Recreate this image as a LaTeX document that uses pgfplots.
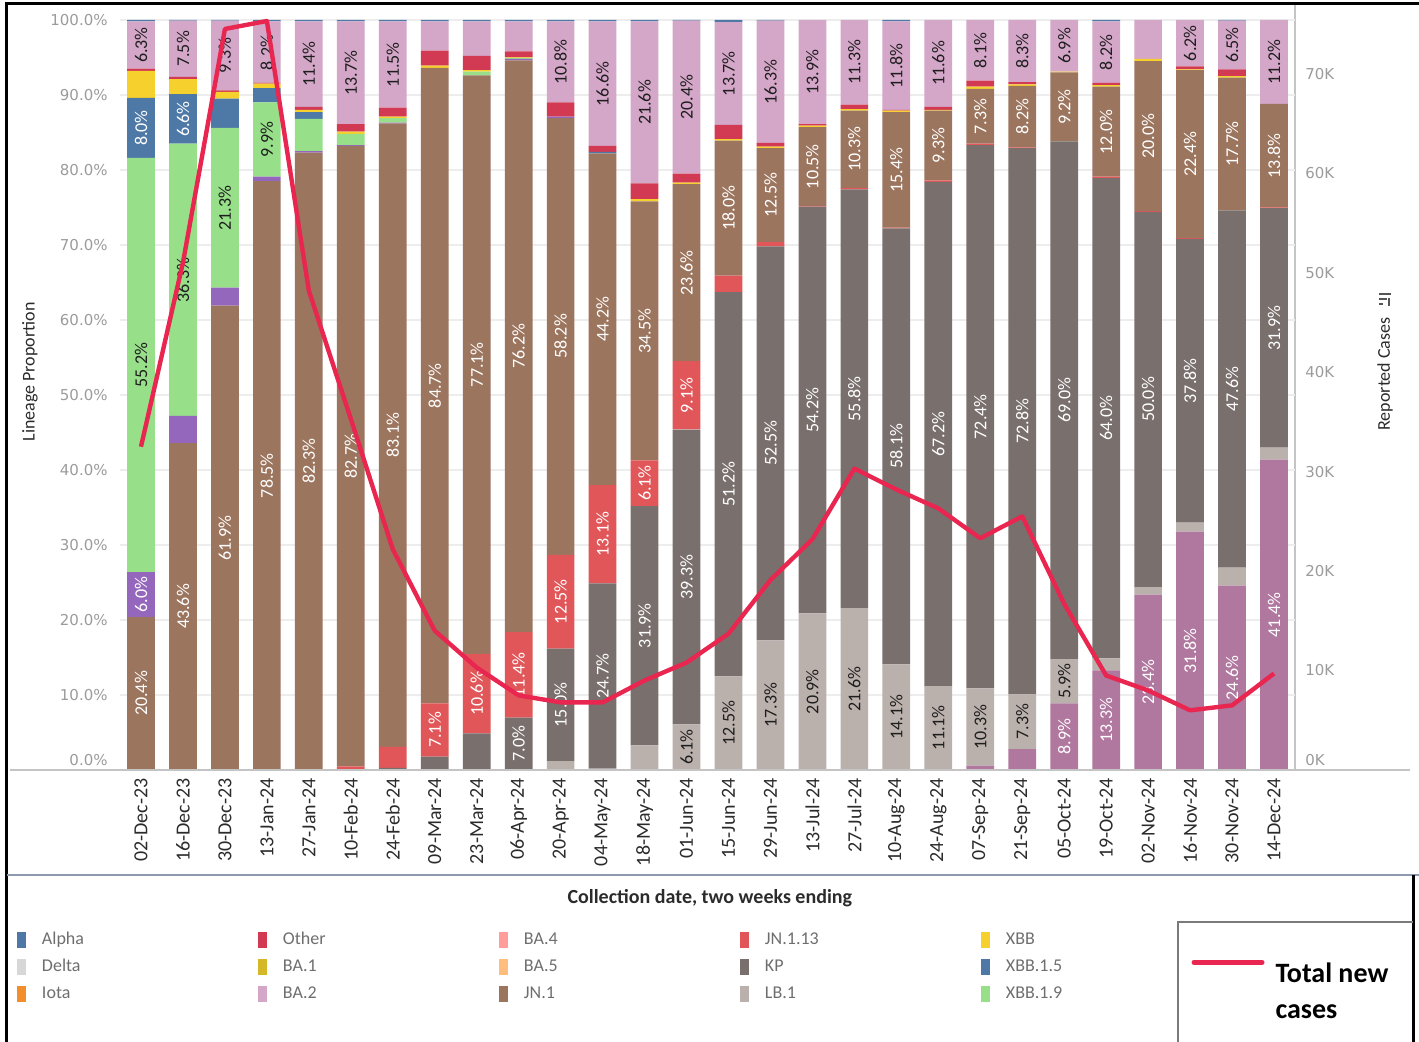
\documentclass[border=0pt]{standalone}
\usepackage{pgfplots}
\pgfplotsset{compat=1.18}
\usepackage{pgfplotstable}
\usepackage{fontspec}
\setmainfont{Carlito}
\newfontfamily\dejavu{DejaVu Sans}

\definecolor{cXEC}{HTML}{B0779F}
\definecolor{cLB}{HTML}{BAB0AC}
\definecolor{cKP}{HTML}{79706E}
\definecolor{cJNa}{HTML}{E15759}
\definecolor{cJN}{HTML}{9C755F}
\definecolor{cPU}{HTML}{9467BD}
\definecolor{cGR}{HTML}{98DF8A}
\definecolor{cBL}{HTML}{4E79A7}
\definecolor{cYE}{HTML}{F6D02C}
\definecolor{cOT}{HTML}{D13A52}
\definecolor{cPK}{HTML}{D4A6C8}
\definecolor{cBAa}{HTML}{D4B828}
\definecolor{cBAd}{HTML}{FF9D9A}
\definecolor{cBAe}{HTML}{FFBE7D}
\definecolor{cIota}{HTML}{F28E2B}
\definecolor{cDelta}{HTML}{D7D7D7}
\definecolor{cLine}{HTML}{E8264F}
\definecolor{tickgrey}{HTML}{9B9B9B}
\definecolor{gridcol}{HTML}{EDEDED}
\definecolor{basecol}{HTML}{C4C4C4}
\definecolor{legtext}{HTML}{6E6E6E}
\definecolor{lbldark}{HTML}{1E1E1E}
\definecolor{darktext}{HTML}{2B2B2B}
\definecolor{sepcol}{HTML}{8D99AE}
\definecolor{boxgrey}{HTML}{7A7A7A}
\definecolor{icongrey}{HTML}{555555}

\newcommand\lblfont{\fontsize{9}{10}\selectfont}

\pgfplotsset{
  lbl/.style={
    point meta=explicit symbolic,
    nodes near coords={\ifdim\pgfplotspointmeta pt<5.5pt\relax\else\pgfplotspointmeta\%\fi},
    every node near coord/.append style={rotate=90, anchor=center, inner sep=0pt, font=\lblfont, text=#1},
  },
}

\pgfplotstableread{
x XEC LB KP JNa JN PU GR BL YE OT PK TB cases
0 0 0 0 0 20.4 6.0 55.2 8.0 3.6 0.3 6.3 0.2 32.5
1 0 0 0 0 43.6 3.6 36.3 6.6 2.0 0.3 7.5 0.1 51.0
2 0 0 0 0 61.9 2.4 21.3 3.9 0.9 0.2 9.3 0.1 74.5
3 0 0 0 0 78.5 0.6 9.9 1.9 0.6 0.1 8.2 0.2 75.3
4 0 0 0 0 82.3 0.2 4.3 0.9 0.3 0.4 11.4 0.2 48.2
5 0 0 0 0.5 82.7 0.1 1.5 0 0.3 1.0 13.7 0.2 35.3
6 0 0 0.3 2.8 83.1 0.1 0.6 0 0.2 1.2 11.5 0.2 22.2
7 0 0 1.8 7.1 84.7 0 0 0 0.3 2.0 3.9 0.2 14.0
8 0 0 4.9 10.6 77.1 0 0.5 0 0.2 1.9 4.6 0.2 10.3
9 0 0 7.0 11.4 76.2 0.2 0.1 0 0.1 0.8 4.0 0.2 7.5
10 0 1.2 15.0 12.5 58.2 0.2 0 0 0 1.9 10.8 0.2 6.8
11 0 0.2 24.7 13.1 44.2 0 0 0.2 0 0.8 16.6 0.2 6.8
12 0 3.3 31.9 6.1 34.5 0 0 0 0.3 2.1 21.6 0.2 9.0
13 0 6.1 39.3 9.1 23.6 0 0 0 0.2 1.2 20.4 0.1 10.8
14 0 12.5 51.2 2.2 18.0 0 0 0 0.2 1.9 13.7 0.3 13.7
15 0 17.3 52.5 0.6 12.5 0 0 0 0.2 0.5 16.3 0.1 19.1
16 0 20.9 54.2 0.1 10.5 0 0 0 0.2 0.2 13.9 0 23.2
17 0 21.6 55.8 0.2 10.3 0 0 0 0.2 0.6 11.3 0 30.3
18 0 14.1 58.1 0.1 15.4 0 0 0 0.2 0.1 11.8 0.2 28.2
19 0.1 11.1 67.2 0.2 9.3 0 0 0 0.1 0.4 11.6 0 26.3
20 0.6 10.3 72.4 0.2 7.3 0 0 0 0.3 0.8 8.1 0 23.3
21 2.8 7.3 72.8 0.1 8.2 0 0 0 0.2 0.3 8.3 0 25.5
22 8.9 5.9 69.0 0 9.2 0 0 0 0.1 0 6.9 0 16.7
23 13.3 1.6 64.0 0.2 12.0 0 0 0 0.2 0.3 8.2 0.2 9.5
24 23.4 1.0 50.0 0.1 20.0 0 0 0 0.3 0 5.2 0 8.0
25 31.8 1.2 37.8 0.1 22.4 0 0 0 0.1 0.4 6.2 0 6.0
26 24.6 2.4 47.6 0 17.7 0 0 0 0.2 0.9 6.5 0.1 6.5
27 41.4 1.6 31.9 0.1 13.8 0 0 0 0 0 11.2 0 9.7
}\data

\begin{document}
\begin{tikzpicture}
\useasboundingbox (0,0) rectangle (709.5pt,-521pt);
\begin{scope}[x=0.5pt,y=-0.5pt]
  \draw[line width=0.6pt, draw=basecol] (1295,5) -- (1295,770);
\end{scope}

\begin{axis}[
  at={(60pt,-385pt)}, anchor=south west,
  scale only axis, width=587.5pt, height=375pt,
  xmin=-0.5, xmax=27.5, ymin=0, ymax=100,
  ybar stacked, bar width=0.66,
  axis line style={draw=none}, tick style={draw=none},
  ymajorgrids, grid style={draw=gridcol, line width=0.6pt},
  ytick={0,10,...,100},
  yticklabels={\raisebox{10pt}{0.0\%},10.0\%,20.0\%,30.0\%,40.0\%,50.0\%,60.0\%,70.0\%,80.0\%,90.0\%,100.0\%},
  yticklabel style={font=\dejavu\fontsize{7.5}{9}\selectfont, text=tickgrey, anchor=east, inner sep=0pt, xshift=-6pt},
  xtick={0,...,27},
  xticklabels={02-Dec-23,16-Dec-23,30-Dec-23,13-Jan-24,27-Jan-24,10-Feb-24,24-Feb-24,09-Mar-24,23-Mar-24,06-Apr-24,20-Apr-24,04-May-24,18-May-24,01-Jun-24,15-Jun-24,29-Jun-24,13-Jul-24,27-Jul-24,10-Aug-24,24-Aug-24,07-Sep-24,21-Sep-24,05-Oct-24,19-Oct-24,02-Nov-24,16-Nov-24,30-Nov-24,14-Dec-24},
  xticklabel style={yshift=-4pt, rotate=90, anchor=east, inner sep=0pt, font=\fontsize{10}{12}\selectfont, text=darktext},
  ylabel={Lineage Proportion},
  every axis y label/.style={at={(axis description cs:-0.0766,0.5307)}, rotate=90, anchor=center, font=\fontsize{9}{11}\selectfont, text=darktext},
  xlabel={Collection date, two weeks ending},
  every axis x label/.style={at={(axis description cs:0.502,-0.1707)}, anchor=center, font=\bfseries\fontsize{10}{12}\selectfont, text=darktext},
  legend image code/.code={\fill[#1, draw=none] (0pt,-4pt) rectangle (4.5pt,4pt);},
  legend columns=5, legend cell align=left,
  legend style={at={(axis description cs:-0.08766,-0.21467)}, anchor=north west, draw=none, fill=none, inner sep=0pt, outer sep=0pt, font=\fontsize{9}{11}\selectfont, text=legtext, row sep=4.5pt, nodes={inner sep=0pt, text height=6.5pt, text depth=2.5pt}, /tikz/every odd column/.append style={column sep=8pt}},
]
\addplot[fill=cXEC, draw=none, forget plot, lbl=white] table[x=x, y=XEC, meta=XEC] {\data};
\addplot[fill=cLB, draw=none, forget plot, lbl=lbldark] table[x=x, y=LB, meta=LB] {\data};
\addplot[fill=cKP, draw=none, forget plot, lbl=white] table[x=x, y=KP, meta=KP] {\data};
\addplot[fill=cJNa, draw=none, forget plot, lbl=white] table[x=x, y=JNa, meta=JNa] {\data};
\addplot[fill=cJN, draw=none, forget plot, lbl=white] table[x=x, y=JN, meta=JN] {\data};
\addplot[fill=cPU, draw=none, forget plot, lbl=white] table[x=x, y=PU, meta=PU] {\data};
\addplot[fill=cGR, draw=none, forget plot, lbl=lbldark] table[x=x, y=GR, meta=GR] {\data};
\addplot[fill=cBL, draw=none, forget plot, lbl=white] table[x=x, y=BL, meta=BL] {\data};
\addplot[fill=cYE, draw=none, forget plot, lbl=lbldark] table[x=x, y=YE, meta=YE] {\data};
\addplot[fill=cOT, draw=none, forget plot, lbl=white] table[x=x, y=OT, meta=OT] {\data};
\addplot[fill=cPK, draw=none, forget plot, lbl=lbldark] table[x=x, y=PK, meta=PK] {\data};
\addplot[fill=cBL, draw=none, forget plot] table[x=x, y=TB] {\data};

\addlegendimage{fill=cBL}\addlegendentry{\makebox[108pt][l]{Alpha}}
\addlegendimage{fill=cOT}\addlegendentry{\makebox[108pt][l]{Other}}
\addlegendimage{fill=cBAd}\addlegendentry{\makebox[108pt][l]{BA.4}}
\addlegendimage{fill=cJNa}\addlegendentry{\makebox[108pt][l]{JN.1.13}}
\addlegendimage{fill=cYE}\addlegendentry{\makebox[108pt][l]{XBB}}
\addlegendimage{fill=cDelta}\addlegendentry{\makebox[108pt][l]{Delta}}
\addlegendimage{fill=cBAa}\addlegendentry{\makebox[108pt][l]{BA.1}}
\addlegendimage{fill=cBAe}\addlegendentry{\makebox[108pt][l]{BA.5}}
\addlegendimage{fill=cKP}\addlegendentry{\makebox[108pt][l]{KP}}
\addlegendimage{fill=cBL}\addlegendentry{\makebox[108pt][l]{XBB.1.5}}
\addlegendimage{fill=cIota}\addlegendentry{\makebox[108pt][l]{Iota}}
\addlegendimage{fill=cPK}\addlegendentry{\makebox[108pt][l]{BA.2}}
\addlegendimage{fill=cJN}\addlegendentry{\makebox[108pt][l]{JN.1}}
\addlegendimage{fill=cLB}\addlegendentry{\makebox[108pt][l]{LB.1}}
\addlegendimage{fill=cGR}\addlegendentry{\makebox[108pt][l]{XBB.1.9}}
\end{axis}

\begin{axis}[
  at={(60pt,-385pt)}, anchor=south west,
  scale only axis, width=587.5pt, height=375pt,
  xmin=-0.5, xmax=27.5, ymin=0, ymax=75.4,
  clip=false,
  axis x line=none, axis y line*=right,
  y axis line style={draw=none}, ytick style={draw=none},
  ytick={0,10,...,70},
  yticklabels={\raisebox{10pt}{0K},10K,20K,30K,40K,50K,60K,70K},
  yticklabel style={font=\dejavu\fontsize{7.5}{9}\selectfont, text=tickgrey, anchor=west, inner sep=0pt, xshift=5pt},
  ylabel={Reported Cases},
  every axis y label/.style={at={(axis description cs:1.0766,0.528)}, rotate=90, anchor=center, font=\fontsize{9}{11}\selectfont, text=darktext},
  legend image code/.code={\draw[#1, line width=2.5pt, line cap=round] (1.25pt,8.9pt) -- (35.25pt,8.9pt);},
  legend cell align=left,
  legend style={at={(axis description cs:0.91192,-0.28000)}, anchor=west, draw=none, fill=none, inner sep=0pt, outer sep=0pt, font=\bfseries\fontsize{14}{18}\selectfont, text=black, nodes={inner sep=0pt}, /tikz/every odd column/.append style={column sep=5.5pt}},
]
\addplot[cLine, line width=2.2pt, line join=round, mark=none] table[x=x, y=cases] {\data};
\addlegendentry{\begin{tabular}{@{}l@{}}Total new\\cases\end{tabular}}
\end{axis}

\begin{scope}[x=0.5pt,y=-0.5pt]
  \draw[line width=0.6pt, draw=basecol] (10,770) -- (1410,770);
  \draw[black, line width=1.5pt] (6,1042) -- (6,4) -- (1419,4);
  \draw[sepcol, line width=0.8pt] (7,875) -- (1419,875);
  \draw[black, line width=1.5pt] (1413,875) -- (1413,1042);
  \draw[boxgrey, line width=0.8pt] (1178,1042) -- (1178,922) -- (1413,922);
  % small sort icon beside the right axis title
  \draw[icongrey, line width=1.2pt] (1379,294) -- (1391,294);
  \draw[icongrey, line width=1.2pt] (1379,299) -- (1387,299);
  \draw[icongrey, line width=1.2pt] (1379,304) -- (1383,304);
  \draw[icongrey, line width=1pt] (1389,298) -- (1389,306);
\end{scope}
\end{tikzpicture}
\end{document}
